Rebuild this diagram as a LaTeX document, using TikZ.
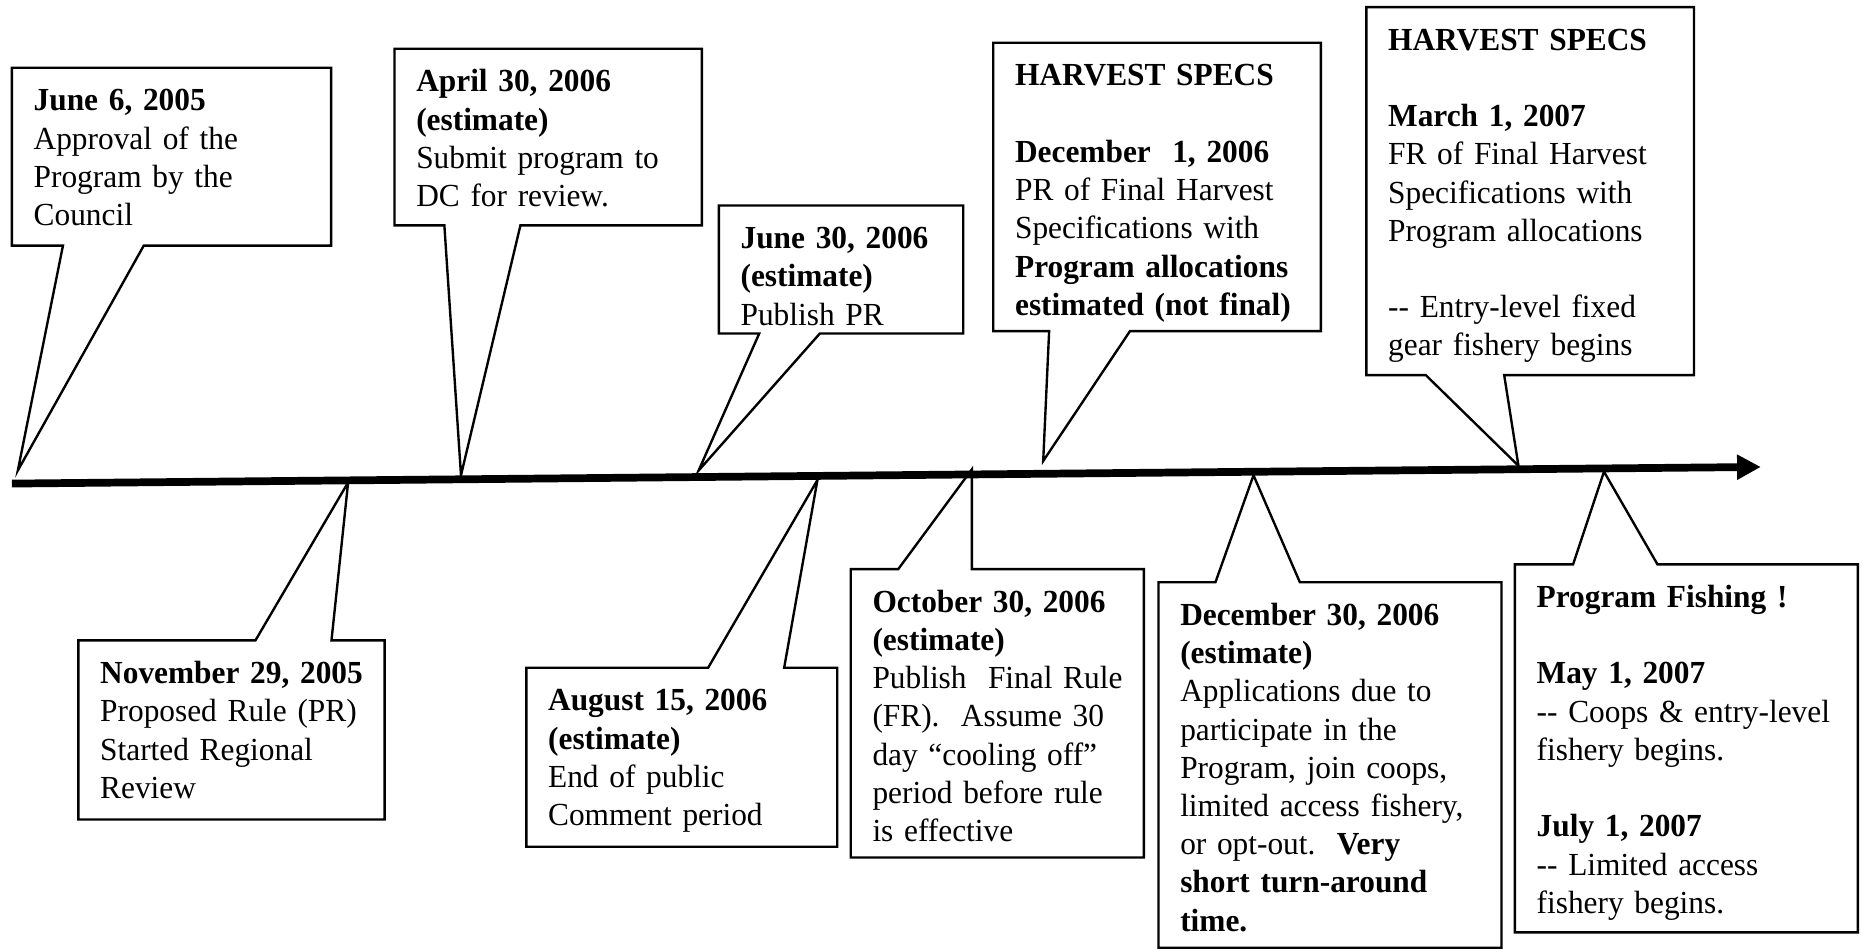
\documentclass[tikz,border=0pt]{standalone}
\usepackage{fontspec}
\setmainfont[FakeStretch=0.975]{Liberation Serif}
\usetikzlibrary{arrows.meta, calc}

\begin{document}
\begin{tikzpicture}[
  x=0.2mm, y=-0.2mm,
  box/.style={anchor=north west, align=left, inner sep=0pt,
    text height=7.2mm, font=\fontsize{15.4pt}{18.3pt}\selectfont},
  bubble/.style={draw, line width=0.4mm, line join=miter},
  axis/.style={line width=1.3mm, -{Triangle[length=4mm, width=4mm]}}
]
  \useasboundingbox (0,0) rectangle (1568,799);

  % time line
  \coordinate (start) at (10,407);
  \coordinate (end) at (1482,393);
  \draw[axis] (start) -- (end);

  % points on the line
  \coordinate (t1) at (15,396);
  \coordinate (t2) at (388,400);
  \coordinate (t3) at (588,396);
  \coordinate (t4) at (878,388);
  \coordinate (t5) at (1278,392);
  \coordinate (t6) at (293,406);
  \coordinate (t7) at (688,404);
  \coordinate (t8) at (818,395);
  \coordinate (t9) at (1055,400);
  \coordinate (t10) at (1350,397);

  % above the line (text starts 18 units right of the frame)
  \node[box, text width=50mm, text depth=22.6mm] (jun05) at (28,57)
    {\textbf{June 6, 2005}\\Approval of the\\Program by the\\Council};
  \node[box, text width=48mm, text depth=22.4mm] (apr06) at (350,41)
    {\textbf{April 30, 2006}\\\textbf{(estimate)}\\Submit program to\\DC for review.};
  \node[box, text width=37.4mm, text depth=14.2mm] (jun06) at (623,173)
    {\textbf{June 30, 2006}\\\textbf{(estimate)}\\Publish PR};
  \node[box, text width=51.4mm, text depth=41.2mm] (dec1) at (854,36)
    {\textbf{HARVEST SPECS}\\[\baselineskip]\textbf{December\ \ 1, 2006}\\PR of Final Harvest\\Specifications with\\\textbf{Program allocations}\\\textbf{estimated (not final)}};
  \node[box, text width=51.4mm, text depth=54.6mm] (mar07) at (1168,6)
    {\textbf{HARVEST SPECS}\\[\baselineskip]\textbf{March 1, 2007}\\FR of Final Harvest\\Specifications with\\Program allocations\\[\baselineskip]-{}- Entry-level fixed\\gear fishery begins};

  % below the line
  \node[box, text width=47.8mm, text depth=22.8mm] (nov05) at (84,539)
    {\textbf{November 29, 2005}\\Proposed Rule (PR)\\Started Regional\\Review};
  \node[box, text width=48.6mm, text depth=22.8mm] (aug06) at (461,562)
    {\textbf{August 15, 2006}\\\textbf{(estimate)}\\End of public\\Comment period};
  \node[box, text width=45.6mm, text depth=41.2mm] (oct06) at (734,479)
    {\textbf{October 30, 2006}\\\textbf{(estimate)}\\Publish\ \ Final Rule\\(FR).\ \ Assume 30\\day “cooling off”\\period before rule\\is effective};
  \node[box, text width=54mm, text depth=54.2mm] (dec30) at (993,490)
    {\textbf{December 30, 2006}\\\textbf{(estimate)}\\Applications due to\\participate in the\\Program, join coops,\\limited access fishery,\\or opt-out.\ \ \textbf{Very}\\\textbf{short turn-around}\\\textbf{time.}};
  \node[box, text width=54mm, text depth=54.6mm] (fish) at (1293,475)
    {\textbf{Program Fishing !}\\[\baselineskip]\textbf{May 1, 2007}\\-{}- Coops \& entry-level\\fishery begins.\\[\baselineskip]\textbf{July 1, 2007}\\-{}- Limited access\\fishery begins.};

  % callout frames, tail on the lower side
  \draw[bubble] ($(jun05.north west)+(-18,0)$) -- (jun05.north east) -- (jun05.south east)
    -- ($(jun05.south west)+(93,0)$) -- (t1) -- ($(jun05.south west)+(25,0)$) -- ($(jun05.south west)+(-18,0)$) -- cycle;
  \draw[bubble] ($(apr06.north west)+(-18,0)$) -- (apr06.north east) -- (apr06.south east)
    -- ($(apr06.south west)+(88,0)$) -- (t2) -- ($(apr06.south west)+(24,0)$) -- ($(apr06.south west)+(-18,0)$) -- cycle;
  \draw[bubble] ($(jun06.north west)+(-18,0)$) -- (jun06.north east) -- (jun06.south east)
    -- ($(jun06.south west)+(67,0)$) -- (t3) -- ($(jun06.south west)+(16,0)$) -- ($(jun06.south west)+(-18,0)$) -- cycle;
  \draw[bubble] ($(dec1.north west)+(-18,0)$) -- (dec1.north east) -- (dec1.south east)
    -- ($(dec1.south west)+(97,0)$) -- (t4) -- ($(dec1.south west)+(29,0)$) -- ($(dec1.south west)+(-18,0)$) -- cycle;
  \draw[bubble] ($(mar07.north west)+(-18,0)$) -- (mar07.north east) -- (mar07.south east)
    -- ($(mar07.south west)+(98,0)$) -- (t5) -- ($(mar07.south west)+(32,0)$) -- ($(mar07.south west)+(-18,0)$) -- cycle;

  % callout frames, tail on the upper side
  \draw[bubble] ($(nov05.south west)+(-18,0)$) -- (nov05.south east) -- (nov05.north east)
    -- ($(nov05.north west)+(195,0)$) -- (t6) -- ($(nov05.north west)+(131,0)$) -- ($(nov05.north west)+(-18,0)$) -- cycle;
  \draw[bubble] ($(aug06.south west)+(-18,0)$) -- (aug06.south east) -- (aug06.north east)
    -- ($(aug06.north west)+(199,0)$) -- (t7) -- ($(aug06.north west)+(135,0)$) -- ($(aug06.north west)+(-18,0)$) -- cycle;
  \draw[bubble] ($(oct06.south west)+(-18,0)$) -- (oct06.south east) -- (oct06.north east)
    -- ($(oct06.north west)+(84,0)$) -- (t8) -- ($(oct06.north west)+(22,0)$) -- ($(oct06.north west)+(-18,0)$) -- cycle;
  \draw[bubble] ($(dec30.south west)+(-18,0)$) -- (dec30.south east) -- (dec30.north east)
    -- ($(dec30.north west)+(101,0)$) -- (t9) -- ($(dec30.north west)+(30,0)$) -- ($(dec30.north west)+(-18,0)$) -- cycle;
  \draw[bubble] ($(fish.south west)+(-18,0)$) -- (fish.south east) -- (fish.north east)
    -- ($(fish.north west)+(102,0)$) -- (t10) -- ($(fish.north west)+(31,0)$) -- ($(fish.north west)+(-18,0)$) -- cycle;
\end{tikzpicture}
\end{document}
